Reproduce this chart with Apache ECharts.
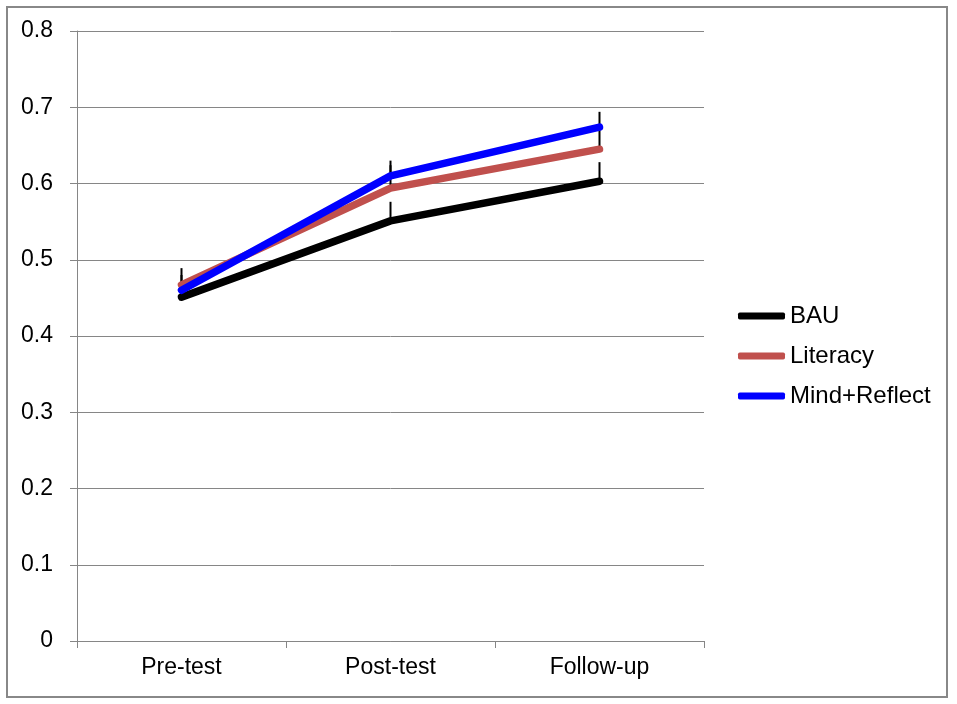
<!DOCTYPE html>
<html>
<head>
<meta charset="utf-8">
<script src="https://cdn.jsdelivr.net/npm/echarts@6/dist/echarts.min.js"></script>
<style>
  html, body { margin: 0; padding: 0; background: #fff; }
  #chart { width: 957px; height: 704px; }
</style>
</head>
<body>
<div id="chart"></div>
<script>
const chart = echarts.init(document.getElementById('chart'));

const phases = ['Pre-test', 'Post-test', 'Follow-up'];
const yTicks = [0, 0.1, 0.2, 0.3, 0.4, 0.5, 0.6, 0.7, 0.8];

const bau = [0.451, 0.551, 0.603];
const literacy = [0.467, 0.594, 0.645];
const mindReflect = [0.460, 0.610, 0.674];

// plus-only error bars
const bauErr = [0.02, 0.025, 0.025];
const literacyErr = [0.022, 0.03, 0.03];
const mindErr = [0.02, 0.02, 0.02];

const names = ['BAU', 'Literacy', 'Mind+Reflect'];
const colors = ['#000000', '#C0504D', '#0000FF'];
const values = [bau, literacy, mindReflect];
const errors = [bauErr, literacyErr, mindErr];

const font = 'Liberation Sans, Arial, sans-serif';

const errSeries = values.map((vals, s) => ({
  type: 'custom',
  name: names[s] + ' err',
  z: 1,
  silent: true,
  data: vals.map((v, i) => [i, v, v + errors[s][i]]),
  renderItem: function (params, api) {
    const p0 = api.coord([api.value(0), api.value(1)]);
    const p1 = api.coord([api.value(0), api.value(2)]);
    return {
      type: 'line',
      shape: { x1: p0[0], y1: p0[1], x2: p1[0], y2: p1[1] },
      style: { stroke: '#000', lineWidth: 2 }
    };
  }
}));

const lineSeries = values.map((vals, s) => ({
  type: 'line',
  name: names[s],
  z: 2 + s,
  data: vals,
  showSymbol: false,
  symbol: 'none',
  color: colors[s],
  lineStyle: { color: colors[s], width: 7.5, cap: 'round', join: 'round' }
}));

const option = {
  animation: false,
  backgroundColor: '#fff',
  graphic: [{
    type: 'rect',
    shape: { x: 7, y: 7, width: 940, height: 690 },
    style: { fill: 'none', stroke: '#888', lineWidth: 2 }
  }],
  grid: { left: 77, right: 253, top: 31, bottom: 63 },
  legend: {
    data: names,
    orient: 'vertical',
    left: 733,
    top: 299,
    icon: 'roundRect',
    itemWidth: 47,
    itemHeight: 7,
    itemGap: 16,
    textStyle: { fontFamily: font, fontSize: 24, color: '#000', lineHeight: 24 }
  },
  xAxis: {
    type: 'category',
    data: phases,
    boundaryGap: true,
    axisLine: { lineStyle: { color: '#868686', width: 1 } },
    axisTick: { show: true, length: 7, lineStyle: { color: '#868686' } },
    axisLabel: { fontFamily: font, fontSize: 23, color: '#000', margin: 15 }
  },
  yAxis: {
    type: 'value',
    min: 0,
    max: 0.8,
    interval: 0.1,
    axisLine: { show: true, lineStyle: { color: '#868686', width: 1 } },
    axisTick: { show: true, length: 7, lineStyle: { color: '#868686' } },
    splitLine: { lineStyle: { color: '#868686', width: 1 } },
    axisLabel: {
      fontFamily: font, fontSize: 23, color: '#000', margin: 24,
      formatter: v => {
        const t = yTicks.find(x => Math.abs(x - v) < 1e-9);
        return t === undefined ? '' : String(t);
      }
    }
  },
  series: errSeries.concat(lineSeries)
};

chart.setOption(option);
</script>
</body>
</html>
